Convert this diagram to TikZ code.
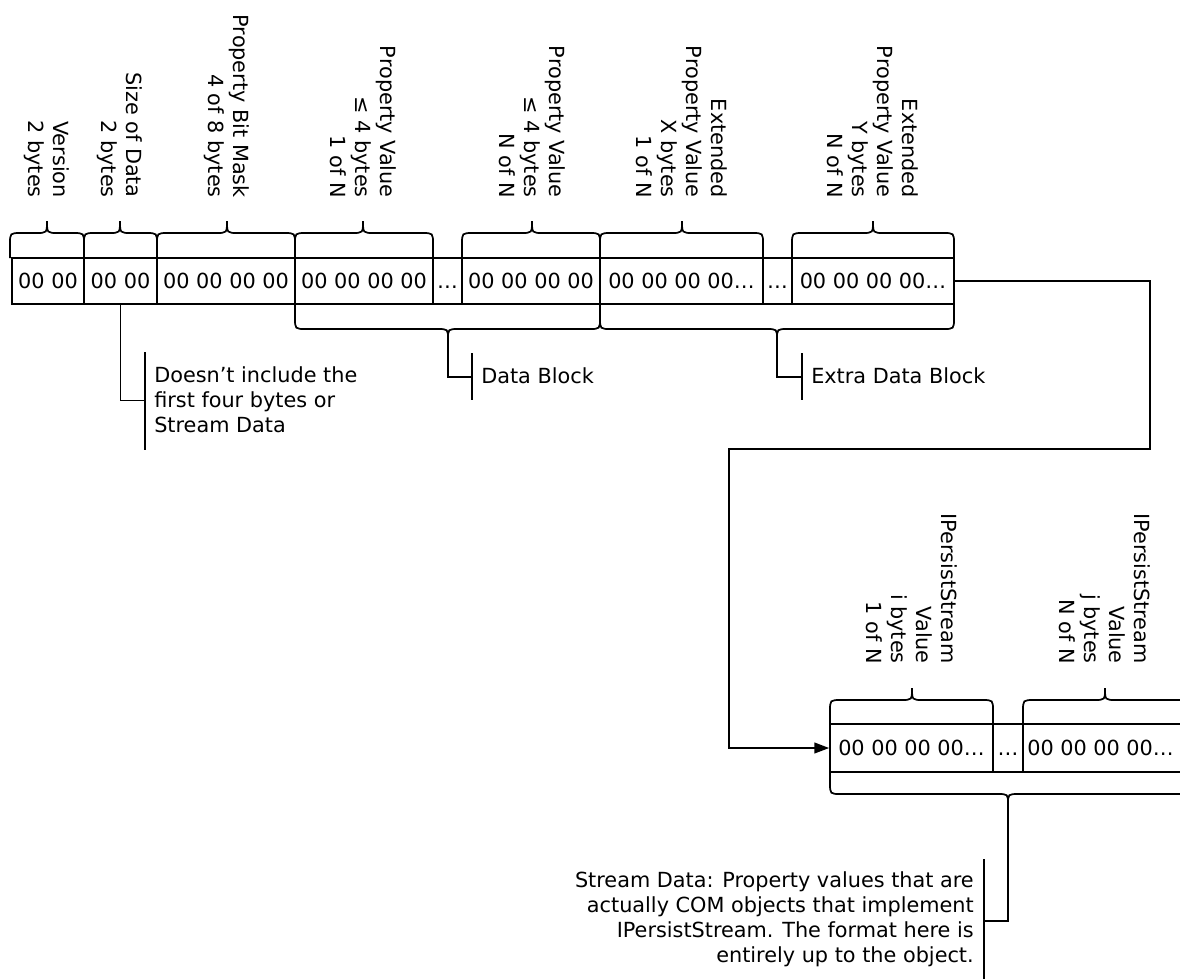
\documentclass[tikz,border=0pt]{standalone}
\usepackage{fontspec}
\setmainfont{DejaVu Sans}
\usetikzlibrary{arrows.meta}
\newcommand\cell[6]{%
  \pgfmathsetmacro\cw{(#3-#2)*0.75}%
  \pgfmathsetmacro\ch{(#5-#4)*0.75}%
  \node[cellst, minimum width=\cw pt, minimum height=\ch pt] (#1) at ({(#2+#3)/2},{-(#4+#5)/2}) {#6};}
\newcommand\cbrace[7]{%
  \draw[line] (#1,#4) -- (#1,#5) .. controls (#1,#6) .. ({#1+11},#6) -- ({#3-11},#6)
    .. controls (#3,#6) .. (#3,#7) .. controls (#3,#6) .. ({#3+11},#6) -- ({#2-11},#6)
    .. controls (#2,#6) .. (#2,#5) -- (#2,#4);}
\begin{document}
\begin{tikzpicture}[x=0.75pt,y=0.75pt,
  every node/.style={inner sep=0pt, font=\fontsize{15.6pt}{18.75pt}\selectfont},
  line/.style={line width=1.3pt, black},
  cellst/.style={draw, line width=1.3pt, rectangle, text height=11pt, text depth=0pt},
  lbl/.style={rotate=-90, anchor=east, align=right},
  note/.style={align=left, anchor=west},
  arr/.style={line, -{Triangle[length=11pt,width=8pt]}},
]
\useasboundingbox (0,0) rectangle (1180,-979);

% top row
\cell{c1}{12}{84}{258}{304}{00 00}
\cell{c2}{84}{157}{258}{304}{00 00}
\cell{c3}{157}{295}{258}{304}{00 00 00 00}
\cell{c4}{295}{433}{258}{304}{00 00 00 00}
\cell{c5}{433}{462}{258}{304}{…}
\cell{c6}{462}{600}{258}{304}{00 00 00 00}
\cell{c7}{600}{763}{258}{304}{00 00 00 00…}
\cell{c8}{763}{792}{258}{304}{…}
\cell{c9}{792}{954}{258}{304}{00 00 00 00…}

% bottom row
\cell{d1}{830}{993}{724}{772}{00 00 00 00…}
\cell{d2}{993}{1023}{724}{772}{…}
\cell{d3}{1023}{1187}{724}{772}{}
\node[anchor=west, text height=11pt, text depth=0pt] (d3t) at (1027,-748) {00 00 00 00…};

% braces above top row
\cbrace{10}{84}{47}{-258}{-244}{-233}{-221}
\cbrace{84}{157}{120}{-258}{-244}{-233}{-221}
\cbrace{157}{295}{227}{-258}{-244}{-233}{-221}
\cbrace{295}{433}{363}{-258}{-244}{-233}{-221}
\cbrace{462}{600}{532}{-258}{-244}{-233}{-221}
\cbrace{600}{763}{682}{-258}{-244}{-233}{-221}
\cbrace{792}{954}{873}{-258}{-244}{-233}{-221}

% braces below top row
\cbrace{295}{600}{448}{-304}{-318}{-329}{-339}
\cbrace{600}{954}{777}{-304}{-318}{-329}{-339}

% braces of bottom row
\cbrace{830}{993}{912}{-724}{-711}{-700}{-688}
\cbrace{1023}{1187}{1105}{-724}{-711}{-700}{-688}
\cbrace{830}{1187}{1008}{-772}{-783}{-794}{-804}

% rotated labels
\node[lbl] (l1) at (47,-198) {Version\\2 bytes};
\node[lbl] (l2) at (120,-198) {Size of Data\\2 bytes};
\node[lbl] (l3) at (227,-198) {Property Bit Mask\\4 of 8 bytes};
\node[lbl] (l4) at (363,-198) {Property Value\\≤ 4 bytes\\1 of N};
\node[lbl] (l5) at (532,-198) {Property Value\\≤ 4 bytes\\N of N};
\node[lbl] (l6) at (682,-198) {Extended\\Property Value\\X bytes\\1 of N};
\node[lbl] (l7) at (873,-198) {Extended\\Property Value\\Y bytes\\N of N};
\node[lbl] (l8) at (912,-664) {IPersistStream\\Value\\i bytes\\1 of N};
\node[lbl] (l9) at (1105,-664) {IPersistStream\\Value\\j bytes\\N of N};

% annotation: size of data
\coordinate (b1) at (145,-400.5);
\draw[line] (c2.south) |- (b1);
\draw[line] (145,-352) -- (145,-450);
\node[note] (n1) at (154,-400) {Doesn’t include the\\first four bytes or\\Stream Data};

% annotation: data block
\coordinate (t1) at (448,-339);
\coordinate (b2) at (472,-377);
\draw[line] (t1) |- (b2);
\draw[line] (472,-353) -- (472,-400);
\node[note] (n2) at (481,-376) {Data Block};

% annotation: extra data block
\coordinate (t2) at (777,-339);
\coordinate (b3) at (802,-377);
\draw[line] (t2) |- (b3);
\draw[line] (802,-353) -- (802,-400);
\node[note] (n3) at (811,-376) {Extra Data Block};

% annotation: stream data
\coordinate (t3) at (1008,-804);
\coordinate (b4) at (984,-921);
\draw[line] (t3) |- (b4);
\draw[line] (984,-859) -- (984,-979);
\node[align=right, anchor=east] (n4) at (974,-919.5) {Stream Data: Property values that are\\actually COM objects that implement\\IPersistStream. The format here is\\entirely up to the object.};

% connector from top row to bottom row
\coordinate (k1) at (1150,-449);
\coordinate (k2) at (729,-449);
\draw[arr] (c9.east) -| (k1) -- (k2) |- (d1.west);
\end{tikzpicture}
\end{document}
